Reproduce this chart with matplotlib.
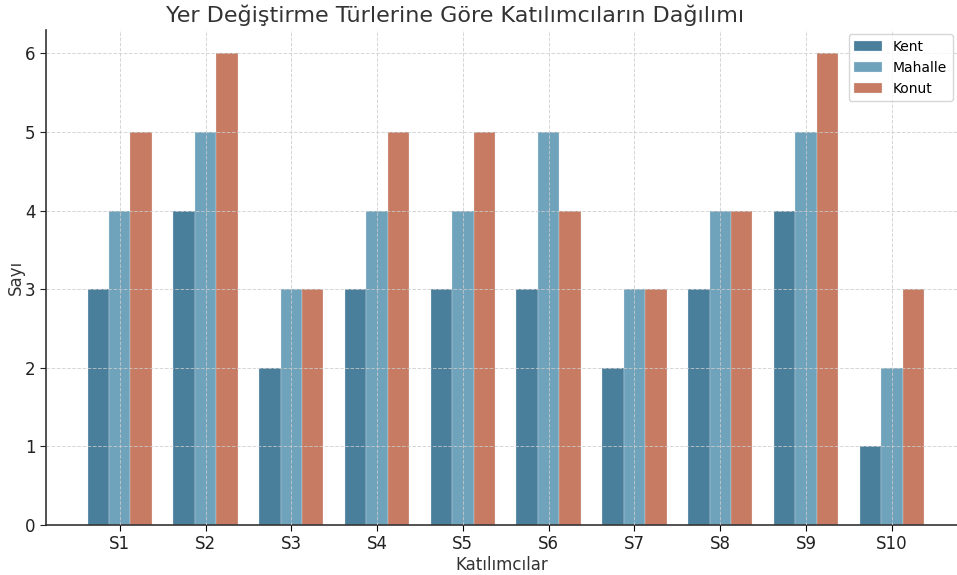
import matplotlib
matplotlib.use("Agg")
import matplotlib.pyplot as plt
import numpy as np

categories = ["S1", "S2", "S3", "S4", "S5", "S6", "S7", "S8", "S9", "S10"]
kent = [3, 4, 2, 3, 3, 3, 2, 3, 4, 1]
mahalle = [4, 5, 3, 4, 4, 5, 3, 4, 5, 2]
konut = [5, 6, 3, 5, 5, 4, 3, 4, 6, 3]
series_names = ["Kent", "Mahalle", "Konut"]
colors = ["#4a7f9c", "#6fa3bc", "#c77b62"]

fig = plt.figure(figsize=(9.57, 5.75), dpi=100)
ax = fig.add_axes([0.048, 0.087, 0.952, 0.861])

x = np.arange(len(categories))
w = 0.25
for i, (vals, name, c) in enumerate(zip([kent, mahalle, konut], series_names, colors)):
    ax.bar(x + (i - 1) * w, vals, width=w, color=c, label=name, edgecolor="#e8eef2", linewidth=0.2, zorder=1)

ax.set_axisbelow(False)
ax.grid(True, linestyle="--", color="#cccccc", linewidth=0.7, alpha=0.8, zorder=3)
ax.set_xticks(x)
ax.set_xticklabels(categories, fontsize=12, color="#222222")
ax.set_yticks(range(0, 7))
ax.tick_params(axis="y", labelsize=12, colors="#222222", length=4)
ax.tick_params(axis="x", length=4)
ax.set_xlim(-0.86, 9.76)
ax.set_ylim(0, 6.3)
for s in ["top", "right"]:
    ax.spines[s].set_visible(False)
for s in ["left", "bottom"]:
    ax.spines[s].set_color("#333333")
    ax.spines[s].set_linewidth(1.2)

ax.set_title("Yer Değiştirme Türlerine Göre Katılımcıların Dağılımı", fontsize=16, color="#333333", pad=6, x=0.449)
ax.set_xlabel("Katılımcılar", fontsize=12, color="#333333", labelpad=2)
ax.set_ylabel("Sayı", fontsize=12, color="#333333", labelpad=0)
ax.yaxis.set_label_coords(-0.023, 0.5)
leg = ax.legend(loc="upper right", fontsize=10, frameon=True, borderaxespad=0.3)
leg.get_frame().set_edgecolor("#cccccc")

fig.savefig("out.png", dpi=100)
